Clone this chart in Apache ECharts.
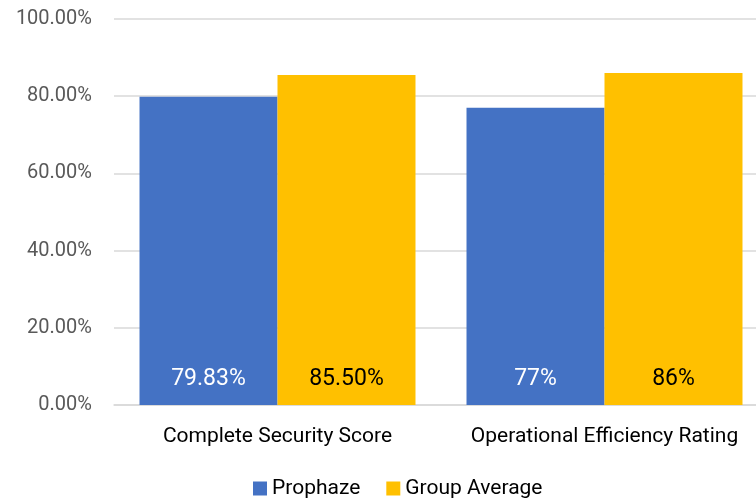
<!DOCTYPE html>
<html><head><meta charset="utf-8">
<script src="https://cdn.jsdelivr.net/npm/echarts@6/dist/echarts.min.js"></script>
<style>html,body{margin:0;padding:0;background:#fff;overflow:hidden;width:756px;height:502px}#c{width:770px;height:502px}</style>
</head><body><div id="c"></div>
<script>
var categories = ['Complete Security Score', 'Operational Efficiency Rating'];
var prophaze = [79.83, 77];
var groupAverage = [85.5, 86];
var prophazeLabels = ['79.83%', '77%'];
var groupLabels = ['85.50%', '86%'];
var yTicks = [0, 20, 40, 60, 80, 100];

var chart = echarts.init(document.getElementById('c'));
var font = 'Roboto';
chart.setOption({
  animation: false,
  grid: {left: 114, width: 654, top: 19, bottom: 97, containLabel: false},
  legend: {
    bottom: -2, left: 248, itemWidth: 14, itemHeight: 14, itemGap: 26,
    icon: 'rect',
    textStyle: {fontFamily: font, fontSize: 21, color: '#000'},
    data: ['Prophaze', 'Group Average']
  },
  xAxis: {
    type: 'category', data: categories,
    axisLine: {lineStyle: {color: '#d9d9d9', width: 1.5}},
    axisTick: {show: false},
    axisLabel: {fontFamily: font, fontSize: 21, color: '#000', margin: 21, interval: 0}
  },
  yAxis: {
    type: 'value', min: 0, max: 100, interval: 20,
    axisLine: {show: false}, axisTick: {show: false},
    splitLine: {lineStyle: {color: '#d9d9d9', width: 1.5}},
    axisLabel: {fontFamily: font, fontSize: 20, color: '#595959', margin: 22,
      formatter: function (v) { return yTicks.indexOf(v) >= 0 ? v.toFixed(2) + '%' : ''; }}
  },
  series: [
    {name: 'Prophaze', type: 'bar', data: prophaze, barGap: '0%', barCategoryGap: '15.6%',
      itemStyle: {color: '#4472c4'},
      label: {show: true, position: 'insideBottom', distance: 14, fontFamily: font, fontSize: 23, color: '#fff',
        formatter: function (p) { return prophazeLabels[p.dataIndex]; }}},
    {name: 'Group Average', type: 'bar', data: groupAverage,
      itemStyle: {color: '#ffc000'},
      label: {show: true, position: 'insideBottom', distance: 14, fontFamily: font, fontSize: 23, color: '#000',
        formatter: function (p) { return groupLabels[p.dataIndex]; }}}
  ]
});
</script></body></html>
